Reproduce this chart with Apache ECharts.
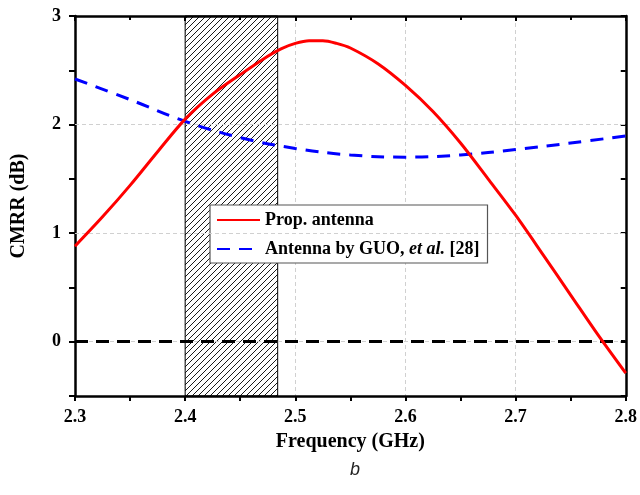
<!DOCTYPE html>
<html>
<head>
<meta charset="utf-8">
<script src="https://cdn.jsdelivr.net/npm/echarts@6/dist/echarts.min.js"></script>
<style>html,body{margin:0;padding:0;background:#fff}#c{width:640px;height:495px}</style>
</head>
<body>
<div id="c"></div>
<script>
// ---- data ----
const freqProp = [2.30, 2.325, 2.35, 2.375, 2.40, 2.425, 2.45, 2.475, 2.4875, 2.50, 2.5125, 2.525, 2.5375, 2.55, 2.575, 2.60, 2.625, 2.65, 2.675, 2.70, 2.725, 2.75, 2.775, 2.80];
const cmrrProp = [0.88, 1.15, 1.44, 1.75, 2.05, 2.28, 2.46, 2.63, 2.70, 2.748, 2.772, 2.772, 2.748, 2.705, 2.56, 2.36, 2.12, 1.83, 1.50, 1.165, 0.80, 0.43, 0.06, -0.29];
const freqGuo = [2.30, 2.35, 2.40, 2.45, 2.50, 2.55, 2.60, 2.65, 2.70, 2.75, 2.80];
const cmrrGuo = [2.42, 2.23, 2.03, 1.88, 1.78, 1.72, 1.70, 1.72, 1.77, 1.83, 1.895];
const bandStart = 2.4, bandEnd = 2.484;
const zeroLevel = 0;
const gridLevels = [1, 2];
const xTicks = [2.3, 2.4, 2.5, 2.6, 2.7, 2.8];
const yTickLabels = [0, 1, 2, 3];
const seriesNames = ['Prop. antenna', 'Antenna by GUO, et al. [28]'];

// hatch pattern
const pc = document.createElement('canvas');
pc.width = 6; pc.height = 6;
const pctx = pc.getContext('2d');
pctx.strokeStyle = '#000'; pctx.lineWidth = 0.9;
pctx.beginPath();
pctx.moveTo(0, 6); pctx.lineTo(6, 0);
pctx.moveTo(-1, 1); pctx.lineTo(1, -1);
pctx.moveTo(5, 7); pctx.lineTo(7, 5);
pctx.stroke();

const FONT = '"Liberation Serif", "Times New Roman", serif';
const zip = (a, b) => a.map((v, i) => [v, b[i]]);

const chart = echarts.init(document.getElementById('c'), null, {renderer: 'canvas'});
const axisLine = {show: true, onZero: false, lineStyle: {color: '#000', width: 2.5}};
chart.setOption({
  animation: false,
  backgroundColor: '#fff',
  grid: {left: 75, right: 13, top: 16, bottom: 99, containLabel: false},
  legend: {
    left: 210, top: 205, orient: 'vertical',
    padding: [6, 8, 5, 6], itemGap: 11, itemWidth: 43, itemHeight: 14,
    backgroundColor: '#fff', borderColor: '#555', borderWidth: 1.2,
    itemStyle: {opacity: 0},
    data: seriesNames,
    formatter: n => n.indexOf('et al.') >= 0 ? 'Antenna by GUO, {i|et al.} [28]' : n,
    textStyle: {fontFamily: FONT, fontWeight: 'bold', fontSize: 18, color: '#000',
      rich: {i: {fontFamily: FONT, fontWeight: 'bold', fontStyle: 'italic', fontSize: 18, color: '#000'}}}
  },
  xAxis: [{
    type: 'value', min: xTicks[0], max: xTicks[xTicks.length - 1], interval: 0.1,
    name: 'Frequency (GHz)', nameLocation: 'middle', nameGap: 36,
    nameTextStyle: {fontFamily: FONT, fontWeight: 'bold', fontSize: 20, color: '#000'},
    axisLine: axisLine,
    axisTick: {show: true, inside: false, length: 5, lineStyle: {width: 2, color: '#000'}},
    minorTick: {show: true, splitNumber: 2, length: 5, lineStyle: {width: 2, color: '#000'}},
    axisLabel: {fontFamily: FONT, fontWeight: 'bold', fontSize: 18, color: '#000', margin: 12,
      formatter: v => v.toFixed(1)},
    splitLine: {show: true, lineStyle: {color: '#d0d0d0', type: [4, 3], width: 1}}
  }, {
    type: 'value', position: 'top', min: xTicks[0], max: xTicks[xTicks.length - 1], interval: 0.1,
    axisLine: axisLine,
    axisTick: {show: true, inside: true, length: 5, lineStyle: {width: 2, color: '#000'}},
    minorTick: {show: true, splitNumber: 2, length: 4, lineStyle: {width: 2, color: '#000'}},
    axisLabel: {show: false}, splitLine: {show: false}
  }],
  yAxis: [{
    type: 'value', min: -0.5, max: 3, interval: 0.5,
    name: 'CMRR (dB)', nameLocation: 'middle', nameGap: 46,
    nameTextStyle: {fontFamily: FONT, fontWeight: 'bold', fontSize: 20, color: '#000'},
    axisLine: axisLine,
    axisTick: {show: true, inside: false, length: 6, lineStyle: {width: 2, color: '#000'}},
    axisLabel: {fontFamily: FONT, fontWeight: 'bold', fontSize: 18, color: '#000', margin: 14,
      formatter: v => yTickLabels.indexOf(Math.round(v * 2) / 2) >= 0 ? String(v) : ''},
    splitLine: {show: false}
  }, {
    type: 'value', position: 'right', min: -0.5, max: 3, interval: 0.5,
    axisLine: axisLine,
    axisTick: {show: true, inside: true, length: 5, lineStyle: {width: 2, color: '#000'}},
    axisLabel: {show: false}, splitLine: {show: false}
  }],
  series: [{
    name: 'grid', type: 'line', data: [], z: 1, silent: true,
    markLine: {silent: true, symbol: 'none', label: {show: false},
      lineStyle: {color: '#d0d0d0', type: [4, 3], width: 1},
      data: gridLevels.map(v => ({yAxis: v})).concat([{yAxis: zeroLevel}])}
  }, {
    name: 'band', type: 'line', data: [], z: 2, silent: true,
    markArea: {silent: true, itemStyle: {color: {image: pc, repeat: 'repeat'}, borderColor: '#000', borderWidth: 1},
      data: [[{xAxis: bandStart}, {xAxis: bandEnd}]]}
  }, {
    name: 'zero', type: 'line', data: [], z: 3, silent: true,
    markLine: {silent: true, symbol: 'none', label: {show: false},
      lineStyle: {color: '#000', type: [13, 8], width: 3},
      data: [{yAxis: zeroLevel}]}
  }, {
    name: seriesNames[1], type: 'line', smooth: 0.4, symbol: 'none', showSymbol: false, z: 4,
    data: zip(freqGuo, cmrrGuo),
    lineStyle: {color: '#0000ff', width: 3, type: [13, 9]}, itemStyle: {color: '#0000ff'}
  }, {
    name: seriesNames[0], type: 'line', smooth: 0.3, symbol: 'none', showSymbol: false, z: 5,
    data: zip(freqProp, cmrrProp),
    lineStyle: {color: '#ff0000', width: 3}, itemStyle: {color: '#ff0000'}
  }],
  graphic: [{
    type: 'text', left: 350, top: 461,
    style: {text: 'b', font: 'italic 18px "Liberation Sans", Arial, sans-serif', fill: '#222'}
  }]
});
</script>
</body>
</html>
